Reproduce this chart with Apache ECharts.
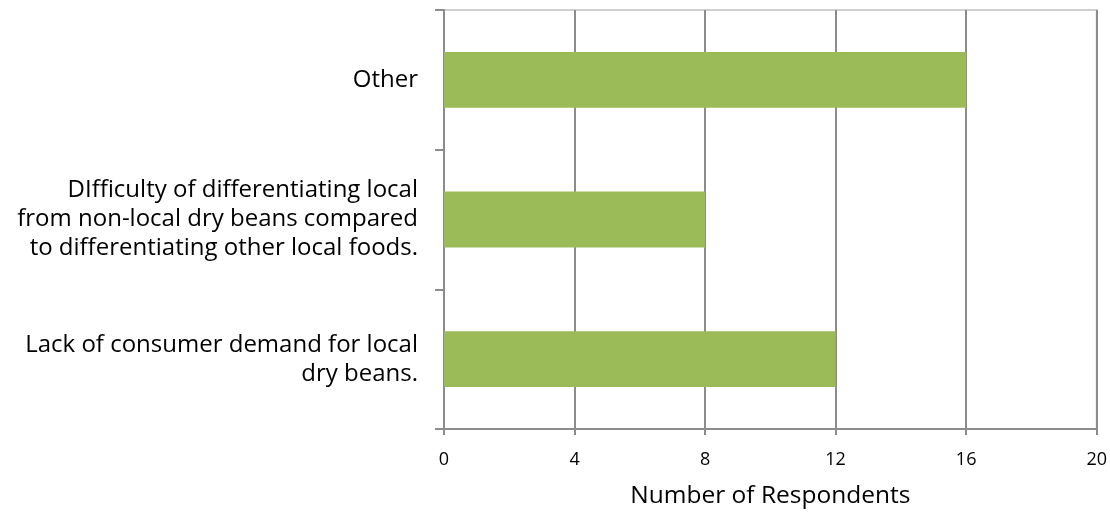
<!DOCTYPE html>
<html>
<head>
<meta charset="utf-8">
<script src="https://cdn.jsdelivr.net/npm/echarts@6/dist/echarts.min.js"></script>
<style>
  html, body { margin: 0; padding: 0; background: #fff; }
  #chart { width: 1110px; height: 514px; }
</style>
</head>
<body>
<div id="chart"></div>
<script>
// Reasons listed, bottom to top
const categories = [
  'Lack of consumer demand for local\ndry beans.',
  'DIfficulty of differentiating local\nfrom non-local dry beans compared\nto differentiating other local foods.',
  'Other'
];
const respondents = [12, 8, 16];
const xTicks = { min: 0, max: 20, interval: 4 };
const xTitle = 'Number of Respondents';

const FONT = 'Open Sans';

const chart = echarts.init(document.getElementById('chart'));
chart.setOption({
  animation: false,
  grid: {
    left: 444, right: 13, top: 10, bottom: 80,
    show: true, borderColor: '#d0d0d0', borderWidth: 2, backgroundColor: 'transparent'
  },
  xAxis: {
    type: 'value',
    min: xTicks.min, max: xTicks.max, interval: xTicks.interval,
    name: xTitle,
    nameLocation: 'middle',
    nameGap: 55,
    nameTextStyle: { fontFamily: FONT, fontSize: 24.5, color: '#000' },
    axisLine: { show: true, lineStyle: { color: '#8c8c8c', width: 2 } },
    axisTick: { show: true, length: 6, lineStyle: { color: '#8c8c8c', width: 2 } },
    axisLabel: { fontFamily: FONT, fontSize: 18, color: '#000', margin: 22 },
    splitLine: { show: true, lineStyle: { color: '#8c8c8c', width: 2 } }
  },
  yAxis: {
    type: 'category',
    data: categories,
    axisLine: { show: true, lineStyle: { color: '#8c8c8c', width: 2 } },
    axisTick: { show: true, length: 9, lineStyle: { color: '#8c8c8c', width: 2 } },
    axisLabel: {
      fontFamily: FONT, fontSize: 24, color: '#000', margin: 26,
      lineHeight: 29, align: 'right'
    },
    splitLine: { show: false }
  },
  series: [{
    type: 'bar',
    data: respondents,
    barCategoryGap: '60%',
    itemStyle: { color: '#9bbb59' },
    silent: true
  }]
});
</script>
</body>
</html>
